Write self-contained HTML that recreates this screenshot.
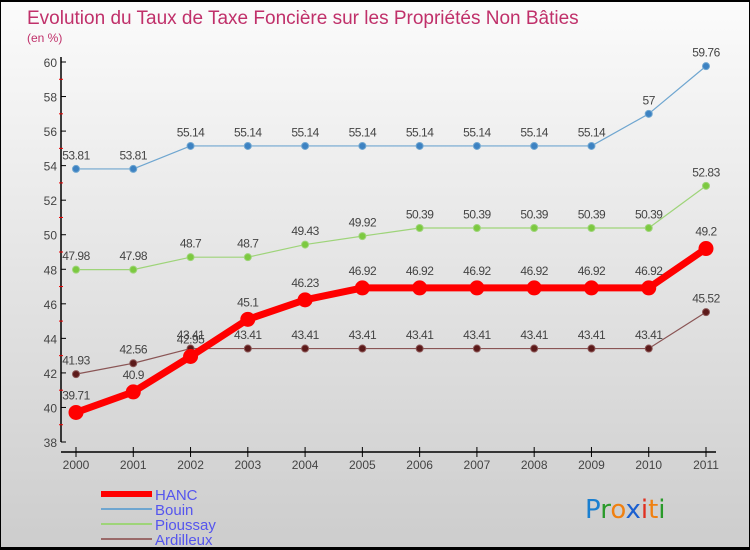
<!DOCTYPE html>
<html><head><meta charset="utf-8"><style>
body{margin:0}
#c{width:750px;height:550px;position:relative;overflow:hidden;box-sizing:border-box;border:1px solid #000;border-top:2px solid #000;border-bottom:3px solid #000;background:linear-gradient(#fbfbfb,#cdcdcd);font-family:"Liberation Sans",sans-serif}
svg{position:absolute;left:0;top:0}
</style></head><body>
<div id="c">
<svg width="750" height="550" id="s">
<text x="26" y="22" font-size="19" fill="#c0306a">Evolution du Taux de Taxe Foncière sur les Propriétés Non Bâties</text>
<text x="26" y="40" font-size="12" fill="#c0306a">(en %)</text>
</svg>
</div>
<script>
const years=[2000,2001,2002,2003,2004,2005,2006,2007,2008,2009,2010,2011];
const yTicks=[38,40,42,44,46,48,50,52,54,56,58,60];
const hanc=[39.71,40.9,42.95,45.1,46.23,46.92,46.92,46.92,46.92,46.92,46.92,49.2];
const bouin=[53.81,53.81,55.14,55.14,55.14,55.14,55.14,55.14,55.14,55.14,57,59.76];
const pioussay=[47.98,47.98,48.7,48.7,49.43,49.92,50.39,50.39,50.39,50.39,50.39,52.83];
const ardilleux=[41.93,42.56,43.41,43.41,43.41,43.41,43.41,43.41,43.41,43.41,43.41,45.52];
const s=document.getElementById('s');const NS='http://www.w3.org/2000/svg';
function X(i){return 75+i*(630/11);}
function Y(v){return 440-(v-38)*(380/22);}
function el(t,a,p){const e=document.createElementNS(NS,t);for(const k in a)e.setAttribute(k,a[k]);(p||s).appendChild(e);return e;}
let e=el('line',{x1:60,y1:55,x2:60,y2:440,stroke:'#000','stroke-width':1.5});

e=el('line',{x1:60,y1:450,x2:715,y2:450,stroke:'#000','stroke-width':1.5});

yTicks.forEach((v,i)=>{
 el('line',{x1:60,y1:Y(v),x2:65,y2:Y(v),stroke:'#000'});
 if(i<yTicks.length-1)el('line',{x1:58,y1:Y(v+1),x2:62,y2:Y(v+1),stroke:'#e00'});
 const t=el('text',{x:56,y:Y(v)+5,'text-anchor':'end','font-size':12,fill:'#444'});t.textContent=v;
 
});
years.forEach((y,i)=>{
 el('line',{x1:X(i),y1:445,x2:X(i),y2:455,stroke:'#000'});
 const t=el('text',{x:X(i),y:467,'text-anchor':'middle','font-size':12,fill:'#444'});t.textContent=y;
 
});
function series(d,col,w,r,name,fill){
 const g=el('g',{});
 el('polyline',{points:d.map((v,i)=>X(i)+','+Y(v)).join(' '),fill:'none',stroke:col,'stroke-width':w,'stroke-linejoin':'round'},g);
 d.forEach((v,i)=>{
  const c=el('circle',{cx:X(i),cy:Y(v),r:r,fill:fill,stroke:col,'stroke-width':1},g);
  
  const t=el('text',{x:X(i),y:Y(v)-(r+6),'text-anchor':'middle','font-size':12,fill:'#444','letter-spacing':'-0.5'},g);t.textContent=v;
  
 });
}
series(bouin,'#6fa6d0',1.2,3.5,'bouin','#3d82c2');
series(pioussay,'#9ed479',1.2,3.5,'pioussay','#7cc940');
series(ardilleux,'#8a5555',1.2,3.5,'ardilleux','#5c1a1a');
series(hanc,'#ff0000',7,7,'hanc','#ff0000');
const leg=[['HANC','#ff0000',6],['Bouin','#6fa6d0',2],['Pioussay','#9ed479',2],['Ardilleux','#9a6a6a',2]];
leg.forEach((l,i)=>{
 const y=492+i*15;
 const g=el('g',{});
 el('line',{x1:100,y1:y,x2:151,y2:y,stroke:l[1],'stroke-width':l[2]},g);
 const t=el('text',{x:154,y:y+6,'font-size':15,fill:'#5555ee'},g);t.textContent=l[0];
});
const lg=el('text',{x:584,y:516,'font-size':26,'font-family':'DejaVu Sans, sans-serif'});

[['P','#1a7fd0'],['r','#2a9a2a'],['o','#f08010'],['x','#1a5fd0'],['i','#e03020'],['t','#f08010'],['i','#2a9a2a']].forEach(p=>{const sp=el('tspan',{fill:p[1]},lg);sp.textContent=p[0];});
</script>
</body></html>
